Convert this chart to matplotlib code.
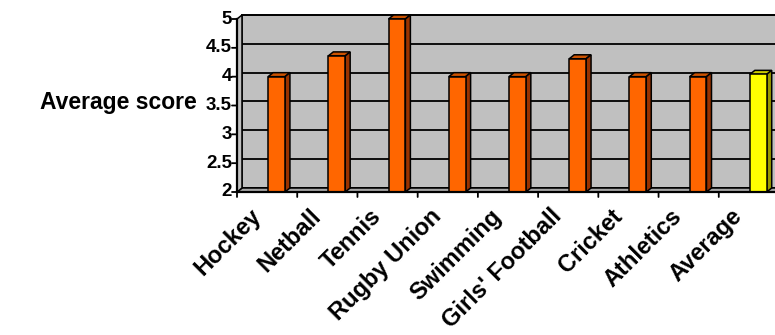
import matplotlib
matplotlib.use("Agg")
import matplotlib.pyplot as plt
from matplotlib.patches import Polygon, Rectangle

# Data
categories = ["Hockey", "Netball", "Tennis", "Rugby Union", "Swimming",
              "Girls' Football", "Cricket", "Athletics", "Average"]
scores = [4.0, 4.36, 5.0, 4.0, 4.0, 4.31, 4.0, 4.0, 4.04]
y_ticks = [2, 2.5, 3, 3.5, 4, 4.5, 5]
y_tick_labels = ["2", "2.5", "3", "3.5", "4", "4.5", "5"]
y_label = "Average score"

# Styling
FONT = "Liberation Sans"
W, H, DPI = 775, 335, 100
face_colors = ["#FF6600"] * 8 + ["#FFFF00"]
top_colors = ["#CC5200"] * 8 + ["#CCCC00"]
side_colors = ["#993300"] * 8 + ["#999900"]
wall_color = "#C0C0C0"

fig = plt.figure(figsize=(W / DPI, H / DPI), dpi=DPI)
# Front plane of the 3D box in pixel geometry
left_px, right_px = 237, 779
bottom_px, top_px = 192, 19
ax = fig.add_axes([left_px / W, (H - bottom_px) / H,
                   (right_px - left_px) / W, (bottom_px - top_px) / H])
n = len(categories)
ax.set_xlim(0, n)
ax.set_ylim(2, 5)
ax.axis("off")

# depth of the 3D effect expressed in data units
px_x = (right_px - left_px) / n
px_y = (bottom_px - top_px) / 3.0
dxu = 5 / px_x
dyu = 4 / px_y

lw = 1.1
# back wall
ax.add_patch(Rectangle((dxu, 2 + dyu), n, 3, facecolor=wall_color,
                       edgecolor="black", lw=lw, clip_on=False, zorder=1))
# gridlines on the wall
for v in y_ticks:
    ax.plot([dxu, n + dxu], [v + dyu, v + dyu], color="black", lw=1.3,
            clip_on=False, zorder=2)
# floor
ax.add_patch(Polygon([(0, 2), (n, 2), (n + dxu, 2 + dyu), (dxu, 2 + dyu)],
                     closed=True, facecolor="#A8A8A8", edgecolor="black",
                     lw=lw, clip_on=False, zorder=3))
# left side edge connecting front axis to wall
ax.add_patch(Polygon([(0, 2), (0, 5), (dxu, 5 + dyu), (dxu, 2 + dyu)],
                     closed=True, facecolor=wall_color, edgecolor="black",
                     lw=lw, clip_on=False, zorder=3))

# bars
bar_w = 0.28
x_pos = [i + 0.656 for i in range(n)]
bars = ax.bar(x_pos, [s - 2 for s in scores], bottom=2, width=bar_w,
              color=face_colors, edgecolor="black", lw=lw, zorder=5,
              clip_on=False)
for b, s, tc, sc in zip(bars, scores, top_colors, side_colors):
    x0 = b.get_x()
    x1 = x0 + b.get_width()
    ax.add_patch(Polygon([(x0, s), (x1, s), (x1 + dxu, s + dyu), (x0 + dxu, s + dyu)],
                         closed=True, facecolor=tc, edgecolor="black", lw=lw,
                         zorder=4, clip_on=False))
    ax.add_patch(Polygon([(x1, 2), (x1, s), (x1 + dxu, s + dyu), (x1 + dxu, 2 + dyu)],
                         closed=True, facecolor=sc, edgecolor="black", lw=lw,
                         zorder=4, clip_on=False))

# front axes lines
ax.plot([0, n], [2, 2], color="black", lw=1.6, clip_on=False, zorder=6)
ax.plot([0, 0], [2, 5], color="black", lw=1.6, clip_on=False, zorder=6)

tick_px = 5
for i in range(n + 1):
    ax.annotate("", xy=(i, 2), xycoords="data",
                xytext=(0, -tick_px), textcoords="offset pixels",
                arrowprops=dict(arrowstyle="-", color="black", lw=1.3,
                                shrinkA=0, shrinkB=0))
for v, lab in zip(y_ticks, y_tick_labels):
    ax.annotate("", xy=(0, v), xycoords="data",
                xytext=(-tick_px, 0), textcoords="offset pixels",
                arrowprops=dict(arrowstyle="-", color="black", lw=1.3,
                                shrinkA=0, shrinkB=0))
    ax.annotate(lab, xy=(0, v), xycoords="data", xytext=(-5, 0),
                textcoords="offset pixels", ha="right", va="center",
                fontsize=13.5, fontweight="bold", family=FONT)

# category labels
for i, cat in enumerate(categories):
    ax.annotate(cat, xy=(i + 0.5, 2), xycoords="data", xytext=(-10, -21),
                textcoords="offset pixels", ha="right", va="center",
                rotation=45, rotation_mode="anchor",
                fontsize=17, fontweight="bold", family=FONT)

fig.text(197 / W, 1 - 103 / H, y_label, ha="right", va="center",
         fontsize=16.5, fontweight="bold", family=FONT)

fig.savefig("out.png", dpi=DPI)
